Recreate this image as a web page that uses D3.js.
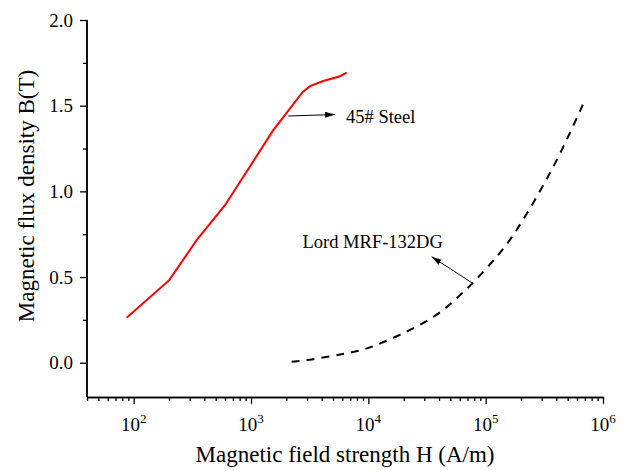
<!DOCTYPE html>
<html>
<head>
<meta charset="utf-8">
<script src="https://cdn.jsdelivr.net/npm/d3@7"></script>
<style>
  html, body { margin: 0; padding: 0; background: #fff; }
  svg { display: block; font-family: "Liberation Serif", "Times New Roman", serif; }
</style>
</head>
<body>
<svg id="chart" width="630" height="470"></svg>
<script>
// B-H curves: 45# steel and Lord MRF-132DG magnetorheological fluid
const steelH = [87, 201, 344, 600, 1549, 2760, 3190, 4130, 5735, 6550];
const steelB = [0.262, 0.482, 0.715, 0.919, 1.357, 1.580, 1.614, 1.644, 1.672, 1.693];

const mrfH = [2220, 3190, 6545, 9700, 17460, 38300, 60500, 78600, 124500, 172000, 332000, 491000, 681000];
const mrfB = [0.006, 0.016, 0.055, 0.078, 0.152, 0.268, 0.395, 0.466, 0.618, 0.735, 1.065, 1.299, 1.513];

const yMajorTicks = [0, 0.5, 1.0, 1.5, 2.0];
const yMinorTicks = [0.25, 0.75, 1.25, 1.75];
const xMajorExponents = [2, 3, 4, 5, 6];

const svg = d3.select("#chart");
const margin = { left: 87, right: 27, top: 20, bottom: 73 };
const W = 630, H = 470;

const x = d3.scaleLog().domain([40, 1e6]).range([margin.left, W - margin.right]);
const y = d3.scaleLinear().domain([-0.2, 2.0]).range([H - margin.bottom, margin.top]);

// minor x ticks: 2..9 in every decade inside the domain
const xMinorTicks = [];
for (let e = 1; e <= 5; e++) {
  for (let m = 2; m <= 9; m++) {
    const v = m * Math.pow(10, e);
    if (v >= 40 && v < 1e6) xMinorTicks.push(v);
  }
}

const axisColor = "#000";

// x axis
const gx = svg.append("g").attr("transform", `translate(0,${y.range()[0]})`);
gx.call(d3.axisBottom(x).tickValues(xMinorTicks).tickSize(4).tickFormat("").tickSizeOuter(0));
gx.append("g").call(d3.axisBottom(x).tickValues(xMajorExponents.map(e => Math.pow(10, e)))
  .tickSize(7).tickFormat("").tickSizeOuter(0));
gx.selectAll("path.domain").attr("stroke", axisColor).attr("stroke-width", 1.5);
gx.selectAll(".tick line").attr("stroke", axisColor).attr("stroke-width", 1.3);

// x tick labels as 10 with superscript exponent
const xl = svg.append("g");
xMajorExponents.forEach(e => {
  const t = xl.append("text")
    .attr("x", x(Math.pow(10, e)))
    .attr("y", 431)
    .attr("text-anchor", "middle")
    .attr("font-size", 19)
    .attr("fill", "#000");
  t.append("tspan").text("10");
  t.append("tspan").attr("font-size", 13).attr("dy", -8).text(e);
});

// y axis
const gy = svg.append("g").attr("transform", `translate(${x.range()[0]},0)`);
gy.call(d3.axisLeft(y).tickValues(yMinorTicks).tickSize(4).tickFormat("").tickSizeOuter(0));
gy.append("g").call(d3.axisLeft(y).tickValues(yMajorTicks).tickSize(7).tickPadding(7)
  .tickFormat(d3.format(".1f")).tickSizeOuter(0));
gy.selectAll("path.domain").attr("stroke", axisColor).attr("stroke-width", 1.5);
gy.selectAll(".tick line").attr("stroke", axisColor).attr("stroke-width", 1.3);
gy.selectAll(".tick text").attr("font-size", 19).attr("font-family", "Liberation Serif, serif").attr("fill", "#000");
gy.selectAll("path.domain").attr("d", `M0,${y.range()[0]}V${y(2.0)}`);

// axis titles
svg.append("text")
  .attr("x", (x.range()[0] + x.range()[1]) / 2)
  .attr("y", 462)
  .attr("text-anchor", "middle")
  .attr("font-size", 23)
  .text("Magnetic field strength H (A/m)");

svg.append("text")
  .attr("transform", `translate(34,${196}) rotate(-90)`)
  .attr("text-anchor", "middle")
  .attr("font-size", 23)
  .text("Magnetic flux density B(T)");

// curves
const steel = steelH.map((h, i) => [h, steelB[i]]);
const mrf = mrfH.map((h, i) => [h, mrfB[i]]);

svg.append("path")
  .datum(steel)
  .attr("fill", "none")
  .attr("stroke", "#ff0000")
  .attr("stroke-width", 2)
  .attr("d", d3.line().x(d => x(d[0])).y(d => y(d[1])).curve(d3.curveLinear));

// smooth B-spline through the fluid's measured points
svg.append("path")
  .datum(mrf)
  .attr("fill", "none")
  .attr("stroke", "#000")
  .attr("stroke-width", 2)
  .attr("stroke-dasharray", "8,7")
  .attr("d", d3.line().x(d => x(d[0])).y(d => y(d[1])).curve(d3.curveBasis));

// annotation arrows
const defs = svg.append("defs");
defs.append("marker")
  .attr("id", "arrowhead")
  .attr("viewBox", "0 0 10 6")
  .attr("refX", 10).attr("refY", 3)
  .attr("markerWidth", 10).attr("markerHeight", 6)
  .attr("markerUnits", "userSpaceOnUse")
  .attr("orient", "auto")
  .append("path").attr("d", "M0,0L10,3L0,6Z").attr("fill", "#000");

svg.append("line")
  .attr("x1", 288.3).attr("y1", 116).attr("x2", 335).attr("y2", 114.5)
  .attr("stroke", "#000").attr("stroke-width", 1)
  .attr("marker-end", "url(#arrowhead)");
svg.append("text")
  .attr("x", 346).attr("y", 122.5)
  .attr("font-size", 18.5)
  .text("45# Steel");

svg.append("line")
  .attr("x1", 472.7).attr("y1", 283.3).attr("x2", 431.7).attr("y2", 256.7)
  .attr("stroke", "#000").attr("stroke-width", 1)
  .attr("marker-end", "url(#arrowhead)");
svg.append("text")
  .attr("x", 302.5).attr("y", 248.3)
  .attr("font-size", 18.5)
  .text("Lord MRF-132DG");
</script>
</body>
</html>
